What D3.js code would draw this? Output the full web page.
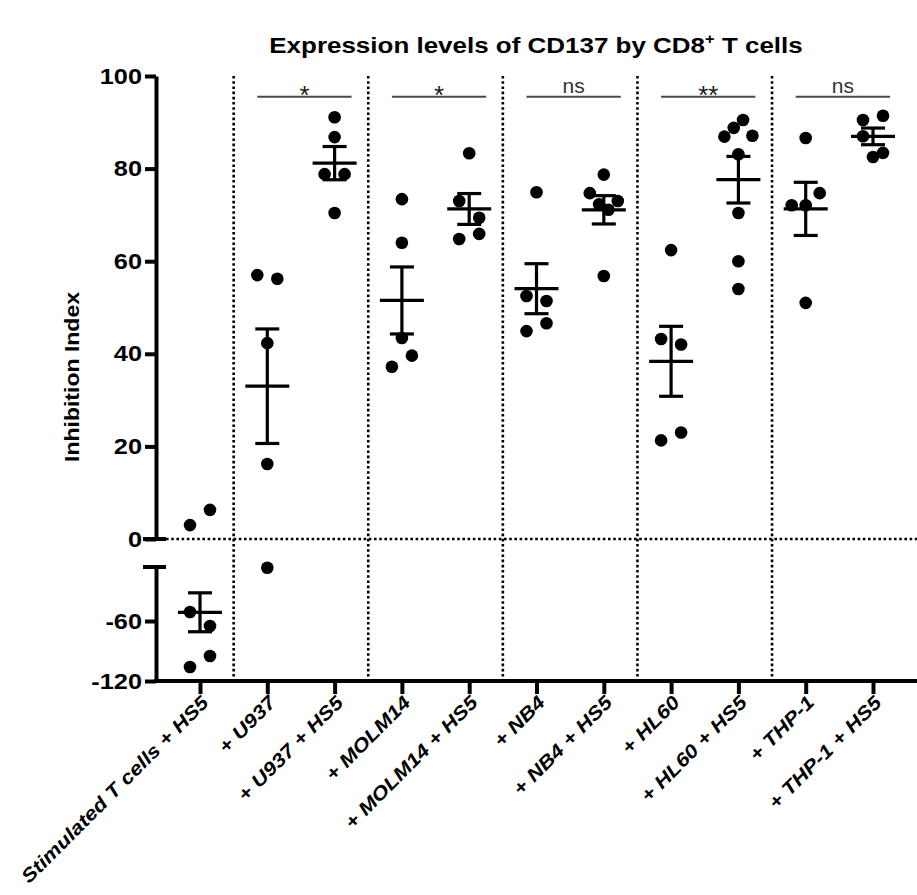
<!DOCTYPE html>
<html>
<head>
<meta charset="utf-8">
<script src="https://cdn.jsdelivr.net/npm/d3@7"></script>
<style>
  body { margin: 0; background: #fff; }
  svg { display: block; }
  text { font-family: "Liberation Sans", Arial, Helvetica, sans-serif; }
</style>
</head>
<body>
<svg id="chart" width="917" height="895"></svg>
<script>
// Groups along the x axis
const categories = [
  "Stimulated T cells + HS5", "+ U937", "+ U937 + HS5", "+ MOLM14", "+ MOLM14 + HS5",
  "+ NB4", "+ NB4 + HS5", "+ HL60", "+ HL60 + HS5", "+ THP-1", "+ THP-1 + HS5"
];

// Inhibition index, one value per replicate
const tcellsHS5  = [3.0, 6.3, -51, -65, -106, -95];
const u937       = [57.0, 56.2, 42.3, 16.2, -6.7];
const u937HS5    = [91.1, 86.8, 78.8, 78.8, 70.4];
const molm14     = [73.4, 64.0, 43.4, 37.2, 39.6];
const molm14HS5  = [83.3, 73.0, 69.4, 64.8, 65.9];
const nb4        = [74.9, 52.5, 51.4, 44.9, 46.6];
const nb4HS5     = [78.7, 74.7, 72.3, 71.1, 73.0, 56.8];
const hl60       = [62.4, 43.2, 42.0, 21.3, 23.0];
const hl60HS5    = [86.9, 88.8, 90.5, 87.1, 83.1, 70.4, 60.0, 54.0];
const thp1       = [86.6, 72.1, 72.1, 74.7, 51.0];
const thp1HS5    = [90.5, 91.4, 87.0, 82.5, 83.4];

const groups = [tcellsHS5, u937, u937HS5, molm14, molm14HS5, nb4, nb4HS5,
                hl60, hl60HS5, thp1, thp1HS5];

// Broken y axis: upper and lower segments
const upperTicks = [0, 20, 40, 60, 80, 100];
const lowerTicks = [-120, -60];
const upperDomain = [0, 100];
const lowerDomain = [-120, -6];

// Pairwise comparisons (category indices) and their significance
const comparisons = [[1, 2], [3, 4], [5, 6], [7, 8], [9, 10]];
const significance = ["*", "*", "ns", "**", "ns"];
const bracketLevel = 95.5;

const W = 917, H = 895;
const svg = d3.select("#chart");

const axisX = 156;
const x = d3.scalePoint().domain(categories).range([200, 873]);
const yTop = d3.scaleLinear().domain(upperDomain).range([539, 76]);
const yBot = d3.scaleLinear().domain(lowerDomain).range([681, 567]);
const yPos = v => (v >= 0 ? yTop(v) : yBot(v));
const xAxisY = yBot(-120);

// Stretch text horizontally along its own baseline
function widen(sel, factor) {
  sel.each(function () {
    const L = this.getComputedTextLength();
    d3.select(this).attr("textLength", L * factor).attr("lengthAdjust", "spacingAndGlyphs");
  });
}

// ---- dotted guides ----
const dotted = svg.append("g").attr("stroke", "#000").attr("stroke-width", 2.6)
  .attr("stroke-dasharray", "2.6,2.6").attr("fill", "none");
dotted.append("line")
  .attr("x1", axisX + 10).attr("x2", W)
  .attr("y1", yTop(0)).attr("y2", yTop(0));
[0, 2, 4, 6, 8].forEach(k => {
  const xm = (x(categories[k]) + x(categories[k + 1])) / 2;
  dotted.append("line")
    .attr("x1", xm).attr("x2", xm)
    .attr("y1", yTop(100)).attr("y2", xAxisY - 3);
});

// ---- y axis (two segments) ----
function styleAxis(g) {
  g.select(".domain").attr("stroke-width", 4);
  g.selectAll(".tick line").attr("stroke-width", 4);
  g.selectAll(".tick text")
    .attr("font-size", 22).attr("font-weight", "bold").attr("fill", "#000")
    .attr("font-family", '"Liberation Sans", Arial, sans-serif')
    .call(widen, 1.15);
}
svg.append("g").attr("transform", `translate(${axisX},0)`)
  .call(d3.axisLeft(yTop).tickValues(upperTicks).tickFormat(d => String(d))
    .tickSize(11).tickSizeOuter(0).tickPadding(3))
  .call(styleAxis);
svg.append("g").attr("transform", `translate(${axisX},0)`)
  .call(d3.axisLeft(yBot).tickValues(lowerTicks).tickFormat(d => String(d))
    .tickSize(11).tickSizeOuter(0).tickPadding(3))
  .call(styleAxis);
// break caps at both ends of the gap
[yTop(0), yBot(lowerDomain[1])].forEach(yy => {
  svg.append("line").attr("x1", axisX - 13).attr("x2", axisX + 10)
    .attr("y1", yy).attr("y2", yy).attr("stroke", "#000").attr("stroke-width", 4);
});

// ---- x axis ----
const gx = svg.append("g").attr("transform", `translate(0,${xAxisY})`)
  .call(d3.axisBottom(x).tickSize(13).tickSizeOuter(0).tickFormat(""));
gx.select(".domain").remove();
gx.selectAll(".tick line").attr("stroke-width", 4);
svg.append("line").attr("x1", axisX - 2).attr("x2", W)
  .attr("y1", xAxisY).attr("y2", xAxisY).attr("stroke", "#000").attr("stroke-width", 4);

svg.append("g").selectAll("text").data(categories).join("text")
  .attr("transform", d => `translate(${x(d) + 5},${xAxisY + 18}) rotate(-45)`)
  .attr("text-anchor", "end").attr("dy", "0.35em")
  .attr("font-size", 19).attr("font-weight", "bold").attr("font-style", "italic")
  .attr("fill", "#000")
  .text(d => d)
  .call(widen, 1.16);

// ---- replicate points (rows of near-equal values spread sideways) ----
const ROW_GAP = 17, PAIR_STEP = 20, SPREAD = 28;
function rowOffsets(vals) {
  const order = d3.range(vals.length).sort((a, b) => yPos(vals[a]) - yPos(vals[b]));
  const off = new Array(vals.length).fill(0);
  let i = 0;
  while (i < order.length) {
    const start = yPos(vals[order[i]]);
    const row = [order[i]];
    let j = i + 1;
    while (j < order.length && yPos(vals[order[j]]) - start < ROW_GAP) { row.push(order[j]); j++; }
    row.sort((a, b) => a - b);
    const n = row.length;
    const step = n <= 2 ? PAIR_STEP : SPREAD / (n - 1);
    row.forEach((k, m) => { off[k] = (m - (n - 1) / 2) * step; });
    i = j;
  }
  return off;
}

const pts = svg.append("g");
groups.forEach((vals, gi) => {
  const cx = x(categories[gi]);
  const off = rowOffsets(vals);
  pts.selectAll(null).data(vals).join("circle")
    .attr("cx", (d, i) => cx + off[i])
    .attr("cy", d => yPos(d))
    .attr("r", 6.3)
    .attr("fill", "#000");
});

// ---- mean ± SEM ----
const bars = svg.append("g").attr("stroke", "#000").attr("stroke-width", 3.2);
groups.forEach((vals, gi) => {
  const cx = x(categories[gi]);
  const m = d3.mean(vals);
  const sem = d3.deviation(vals) / Math.sqrt(vals.length);
  const hi = yPos(m + sem), lo = yPos(m - sem), ym = yPos(m);
  bars.append("line").attr("x1", cx).attr("x2", cx).attr("y1", hi).attr("y2", lo);
  bars.append("line").attr("x1", cx - 12).attr("x2", cx + 12).attr("y1", hi).attr("y2", hi);
  bars.append("line").attr("x1", cx - 12).attr("x2", cx + 12).attr("y1", lo).attr("y2", lo);
  bars.append("line").attr("x1", cx - 22).attr("x2", cx + 22).attr("y1", ym).attr("y2", ym);
});

// ---- significance brackets ----
const sig = svg.append("g");
comparisons.forEach(([a, b], k) => {
  const x1 = x(categories[a]) - 10, x2 = x(categories[b]) + 17;
  const yb = yTop(bracketLevel);
  sig.append("line").attr("x1", x1).attr("x2", x2).attr("y1", yb).attr("y2", yb)
    .attr("stroke", "#4a4a4a").attr("stroke-width", 2);
  const lab = significance[k];
  sig.append("text")
    .attr("x", (x1 + x2) / 2)
    .attr("y", lab === "ns" ? yb - 3.5 : yb + 7)
    .attr("text-anchor", "middle")
    .attr("font-size", lab === "ns" ? 21 : 26)
    .attr("fill", lab === "ns" ? "#333" : "#1a1a1a")
    .text(lab);
});

// ---- titles ----
const title = svg.append("text")
  .attr("x", 536).attr("y", 53).attr("text-anchor", "middle")
  .attr("font-size", 22).attr("font-weight", "bold").attr("fill", "#000");
title.append("tspan").text("Expression levels of CD137 by CD8");
title.append("tspan").attr("font-size", 14).attr("dy", -9).text("+");
title.append("tspan").attr("dy", 9).text(" T cells");
title.call(widen, 1.18);

svg.append("text")
  .attr("transform", "translate(79,377) rotate(-90)")
  .attr("text-anchor", "middle")
  .attr("font-size", 20).attr("font-weight", "bold").attr("fill", "#000")
  .text("Inhibition Index")
  .call(widen, 1.15);
</script>
</body>
</html>
